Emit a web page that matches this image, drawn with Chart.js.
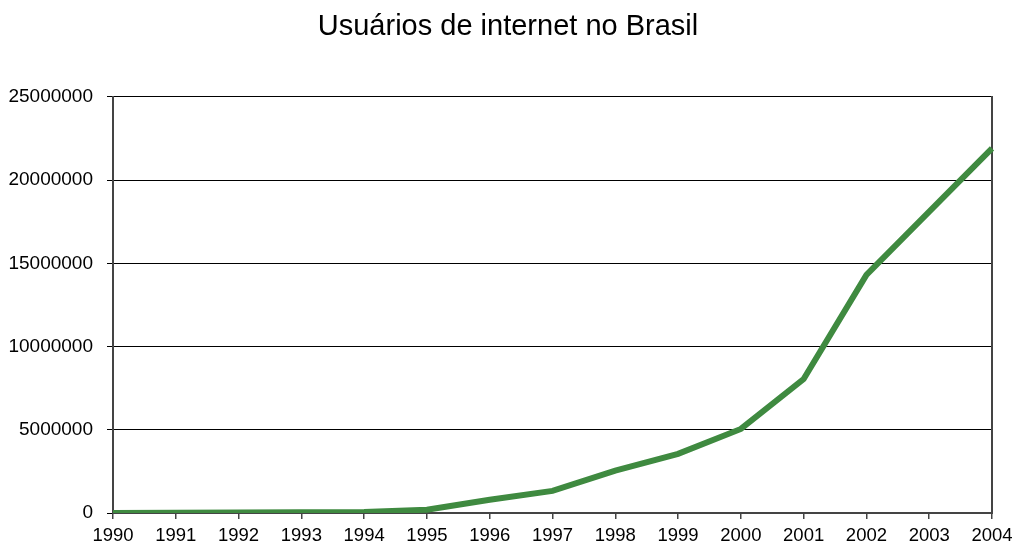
<!DOCTYPE html>
<html>
<head>
<meta charset="utf-8">
<script src="https://cdn.jsdelivr.net/npm/chart.js@4"></script>
<style>
html,body{margin:0;padding:0;background:#fff;}
#wrap{width:1016px;height:546px;}
</style>
</head>
<body>
<div id="wrap"><canvas id="c" width="1016" height="546"></canvas></div>
<script>
const titleText = "Usuários de internet no Brasil";
const categories = ["1990","1991","1992","1993","1994","1995","1996","1997","1998","1999","2000","2001","2002","2003","2004"];
const users = [0, 10000, 30000, 40000, 60000, 200000, 800000, 1330000, 2550000, 3550000, 5050000, 8050000, 14300000, 18100000, 21900000];
const yTicks = [0, 5000000, 10000000, 15000000, 20000000, 25000000];

const font = "'Liberation Sans', Arial, sans-serif";
new Chart(document.getElementById('c'), {
  type: 'line',
  data: {
    labels: categories,
    datasets: [{
      data: users,
      borderColor: '#3f8a40',
      borderWidth: 6,
      pointRadius: 0,
      tension: 0,
      fill: false
    }]
  },
  options: {
    responsive: false,
    animation: false,
    layout: { padding: 0 },
    plugins: {
      legend: { display: false },
      tooltip: { enabled: false },
      title: {
        display: true,
        text: titleText,
        color: '#000',
        font: { family: font, size: 29, weight: 'normal' },
        padding: { top: 10, bottom: 52 }
      }
    },
    scales: {
      x: {
        offset: false,
        grid: { drawOnChartArea: false, drawTicks: true, tickLength: 6, color: '#444', lineWidth: 1.5 },
        border: { display: true, color: '#444', width: 2 },
        ticks: { color: '#000', font: { family: font, size: 18.5 }, padding: 6, maxRotation: 0, autoSkip: false },
        afterFit: (s) => { s.height = 33; s.paddingLeft = 0; s.paddingRight = 0; }
      },
      y: {
        min: 0, max: 25000000,
        afterBuildTicks: (s) => { s.ticks = yTicks.map(v => ({ value: v })); },
        grid: { color: '#000', lineWidth: 1, tickLength: 6, drawTicks: true },
        border: { display: true, color: '#444', width: 2 },
        ticks: { color: '#000', font: { family: font, size: 19 }, padding: 14, callback: (v) => String(v) },
        afterFit: (s) => { s.width = 113; s.paddingTop = 0; s.paddingBottom = 0; }
      },
      y2: {
        position: 'right',
        min: 0, max: 25000000,
        grid: { display: false },
        border: { display: true, color: '#444', width: 2 },
        ticks: { display: false },
        afterFit: (s) => { s.width = 24; s.paddingTop = 0; s.paddingBottom = 0; }
      }
    }
  }
});
</script>
</body>
</html>
